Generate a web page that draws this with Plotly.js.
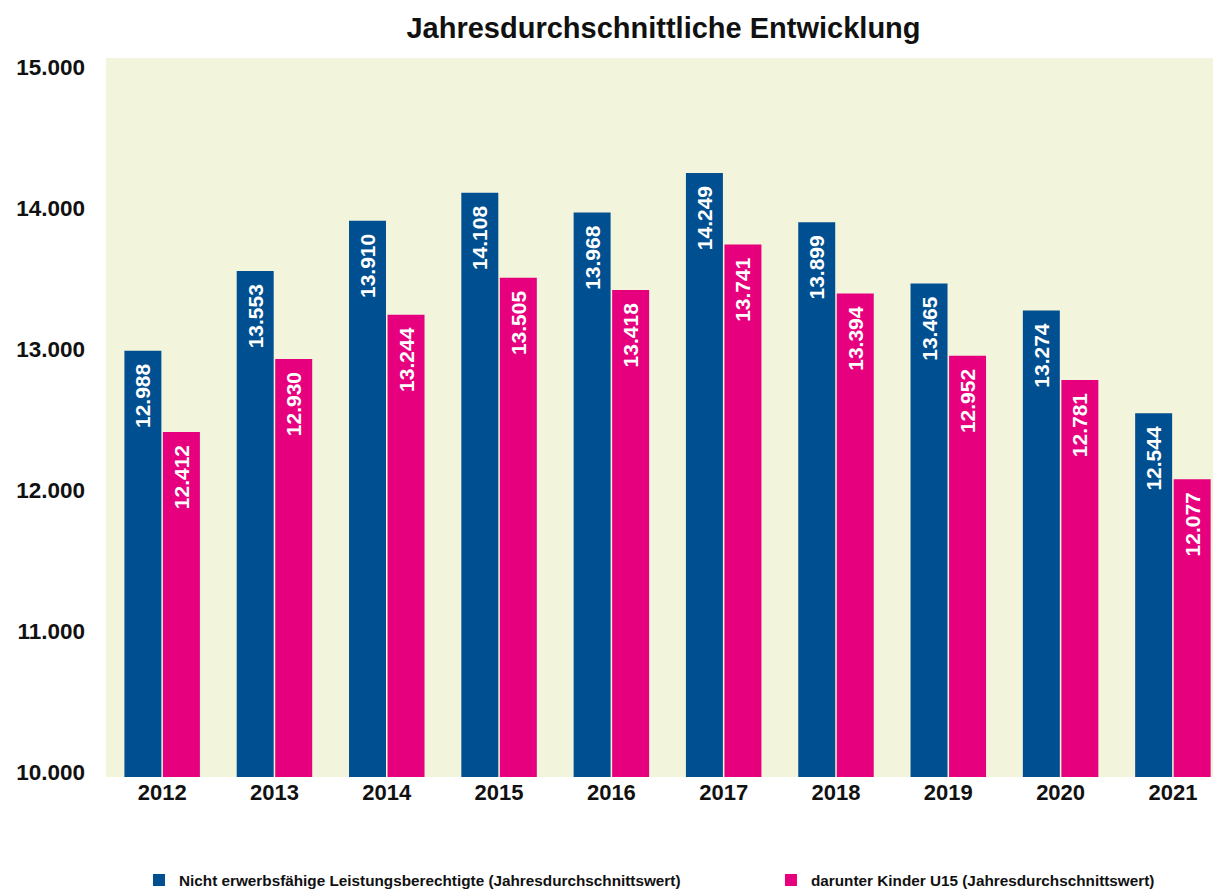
<!DOCTYPE html>
<html>
<head>
<meta charset="utf-8">
<script src="https://cdn.plot.ly/plotly-3.0.1.min.js"></script>
<style>body{margin:0;padding:0;background:#fff;}#chart{width:1213px;height:892px;}</style>
</head>
<body>
<div id="chart"></div>
<script>
const years = ['2012','2013','2014','2015','2016','2017','2018','2019','2020','2021'];
const nichtErwerbsfaehige = [12988, 13553, 13910, 14108, 13968, 14249, 13899, 13465, 13274, 12544];
const kinderU15 = [12412, 12930, 13244, 13505, 13418, 13741, 13394, 12952, 12781, 12077];
const seriesNames = ['Nicht erwerbsfähige Leistungsberechtigte (Jahresdurchschnittswert)', 'darunter Kinder U15 (Jahresdurchschnittswert)'];
const yTicks = [10000, 11000, 12000, 13000, 14000, 15000];

const textFont = {family: 'Liberation Sans, Arial, sans-serif', size: 21, color: '#ffffff', weight: 'bold'};
function barTrace(vals, name, color, legendId) {
  return {
    type: 'bar', x: years, y: vals, name: name, legend: legendId,
    marker: {color: color},
    texttemplate: '%{y:,d}\u00a0\u2009', textposition: 'inside', insidetextanchor: 'end',
    textangle: -90, textfont: textFont, cliponaxis: false, hoverinfo: 'skip'
  };
}
const data = [
  barTrace(nichtErwerbsfaehige, seriesNames[0], '#004f91', 'legend'),
  barTrace(kinderU15, seriesNames[1], '#e6007e', 'legend2')
];
const legendFont = {family: 'Liberation Sans Narrow, Arial Narrow, Liberation Sans, sans-serif', size: 15.3, color: '#111', weight: 'bold'};
const layout = {
  width: 1213, height: 892,
  separators: ',.',
  paper_bgcolor: '#ffffff', plot_bgcolor: '#f2f4dc',
  margin: {l: 106, r: 0, t: 58, b: 115, autoexpand: false},
  title: {text: '<b>Jahresdurchschnittliche Entwicklung</b>', x: 0.547, xanchor: 'center', y: 0.969, yanchor: 'middle',
          font: {family: 'Liberation Sans, Arial, sans-serif', size: 29, color: '#111'}},
  barmode: 'group', bargap: 0.314, bargroupgap: 0.04,
  uniformtext: {mode: 'show', minsize: 10},
  xaxis: {type: 'category', range: [-0.5, 9.357], showgrid: false, zeroline: false, showline: false, ticks: '',
          automargin: false,
          tickfont: {family: 'Liberation Sans, Arial, sans-serif', size: 22, color: '#111', weight: 'bold'}},
  yaxis: {range: [9965, 15064], tickvals: yTicks, tickformat: ',d', showgrid: false, zeroline: false, showline: false,
          ticks: '', ticklabelstandoff: 20, automargin: false,
          tickfont: {family: 'Liberation Sans, Arial, sans-serif', size: 22.5, color: '#111', weight: 'bold'}},
  showlegend: true,
  legend: {orientation: 'h', x: 0.0298, xanchor: 'left', y: -0.1433, yanchor: 'middle',
           font: legendFont, bgcolor: 'rgba(0,0,0,0)'},
  legend2: {orientation: 'h', x: 0.6007, xanchor: 'left', y: -0.1433, yanchor: 'middle',
           font: legendFont, bgcolor: 'rgba(0,0,0,0)'}
};
Plotly.newPlot('chart', data, layout, {displayModeBar: false, staticPlot: true});
</script>
</body>
</html>
